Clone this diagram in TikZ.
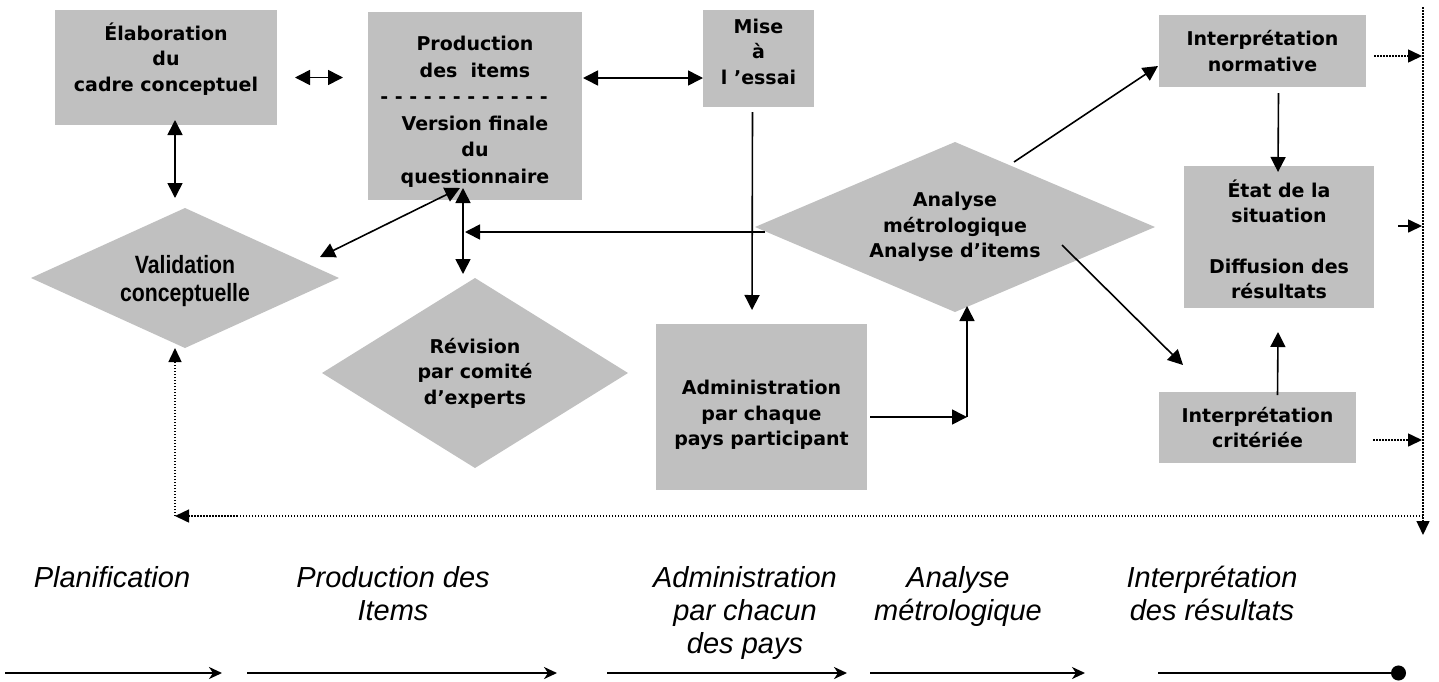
\documentclass[tikz,border=0pt]{standalone}
\usepackage{fontspec}
\setmainfont{Liberation Sans}
\newfontfamily\largefont{DejaVu Sans}
\newfontfamily\etroite[FakeStretch=0.85]{Liberation Sans}
\usetikzlibrary{calc, shapes.geometric, arrows.meta}
\definecolor{gris}{RGB}{192,192,192}
\newcommand{\fontetape}{\largefont\bfseries\fontsize{19}{25.5}\selectfont}
\newcommand{\fontvalid}{\etroite\bfseries\fontsize{25}{28}\selectfont}
\newcommand{\fontphase}{\itshape\fontsize{29}{33}\selectfont}
% text block moved up or down inside its box
\newcommand{\decal}[2]{\raisebox{#1}[\height][\depth]{\begin{tabular}{@{}c@{}}#2\end{tabular}}}

\begin{document}
\begin{tikzpicture}[x=1pt, y=-1pt,
  etape/.style={fill=gris, inner sep=0pt, outer sep=0pt, align=center, font=\fontetape},
  losange/.style={diamond, fill=gris, inner sep=0pt, outer sep=0pt, align=center, font=\fontetape},
  fleche/.style={line width=1.6pt, -{Triangle[length=15pt,width=15pt]}},
  dfleche/.style={line width=1.6pt, {Triangle[length=15pt,width=15pt]}-{Triangle[length=15pt,width=15pt]}},
  pfleche/.style={line width=1.5pt, dash pattern=on 1.5pt off 1.5pt, -{Triangle[length=14pt,width=13pt]}},
  phase/.style={font=\fontphase, align=center, anchor=base},
  axe/.style={line width=2.2pt, -{Stealth[length=13pt,width=12pt,inset=4pt]}}]
\useasboundingbox (0,0) rectangle (1439,681);

% Boxes
\node[etape, minimum width=222, minimum height=115] (elab) at (166,67.5) {\decal{7pt}{Élaboration\\du\\cadre conceptuel}};
\node[etape, minimum width=214, minimum height=188] (prod) at (475,106) {\renewcommand{\arraystretch}{1.04}\decal{-5.5pt}{Production\\des~~items\\- - - - - - - - - - - -\kern22pt\\Version finale\\du\\questionnaire}};
\node[etape, minimum width=111, minimum height=97] (mise) at (758.5,58.5) {\decal{5pt}{Mise\\à\\l ’essai}};
\node[etape, minimum width=211, minimum height=166] (admin) at (761.5,407) {\decal{-8pt}{Administration\\par chaque\\pays participant}};
\node[etape, minimum width=207, minimum height=72] (norm) at (1262.5,51) {Interprétation\\normative};
\node[etape, minimum width=190, minimum height=142] (etat) at (1279,237) {\decal{-6pt}{État de la\\situation\\[25pt]Diffusion des\\résultats}};
\node[etape, minimum width=197, minimum height=71] (crit) at (1257.5,427.5) {Interprétation\\critériée};

% Diamonds
\node[losange, font=\fontvalid, shape aspect=2.2, minimum width=308, minimum height=140] (valid) at (185,278) {\decal{-4pt}{Validation\\conceptuelle}};
\node[losange, shape aspect=1.6, minimum width=306, minimum height=190] (revis) at (475,373) {Révision\\par comité\\d’experts};
\node[losange, shape aspect=2.4, minimum width=400, minimum height=170] (anal) at (955,227) {Analyse\\métrologique\\Analyse d’items};

% Connectors
\draw[dfleche] ($(elab.east)+(18,10)$) -- ($(elab.east -| prod.west)+(-25,10)$);
\draw[dfleche] ($(elab.south)+(9,-5)$) -- ($(valid.north)+(-10,-10)$);
\draw[dfleche] ($(prod.east)+(1,-28)$) -- ($(mise.west)+(0,19.5)$);
\draw[dfleche] ($(prod.south)+(-15,-12)$) -- ($(valid.east)+(-19,-21)$);
\draw[dfleche] ($(prod.south)+(-12,-12)$) -- ($(revis.north)+(-12,-4)$);
\coordinate (jonction) at ($(prod.south)+(-10,32)$);
\draw[fleche] ($(anal.west)+(10,5)$) -- (jonction);
\draw[fleche] ($(mise.south)+(-6,5)$) -- ($(admin.north)+(-9.5,-14)$);
\coordinate (coude) at ($(admin.east)+(100,10)$);
\draw[fleche] ($(admin.east)+(3,10)$) -- (coude);
\draw[fleche] (coude) -- ($(coude |- anal.south)+(0,-6)$);
\draw[fleche] ($(anal.center)+(59,-65)$) -- ($(norm.west)+(-1,15)$);
\draw[fleche] ($(anal.center)+(107,18)$) -- ($(crit.north west)+(24,-27)$);
\draw[fleche] ($(norm.south)+(16,6)$) -- ($(etat.north)+(-1,6)$);
\draw[fleche] ($(crit.north)+(20,3)$) -- ($(etat.south)+(-1,24)$);

% Feedback rail
\coordinate (railhaut) at (1423,7);
\coordinate (railbas) at (1423,516);
\coordinate (sortie) at (1423,535);
\coordinate (retour) at (175,516);
\draw[pfleche] ($(norm.east)+(8,5)$) -- ($(norm.east -| railhaut)+(-1,5)$);
\draw[fleche, -{Triangle[length=14pt,width=13pt]}] ($(etat.east)+(24,-11)$) -- ($(etat.east -| railhaut)+(-1,-11)$);
\draw[pfleche] ($(crit.east)+(17,12.5)$) -- ($(crit.east -| railhaut)+(-1,12.5)$);
\draw[pfleche] (railhaut) -- (sortie);
\draw[pfleche] (railbas) -- (retour);
\draw[pfleche] (retour) -- ($(valid.south)+(-10,0)$);

% Phases
\node[phase] (planif) at (112,587) {Planification};
\node[phase] (prodit) at (393,620) {Production des\\Items};
\node[phase] (adminpays) at (745,653) {Administration\\par chacun\\des pays};
\node[phase] (analmetro) at (958,620) {Analyse\\métrologique};
\node[phase] (interp) at (1212,620) {Interprétation\\des résultats};

\foreach \debut/\fin in {5/222, 247/557, 607/847, 870/1085}
  \draw[axe] (\debut,673) -- (\fin,673);
\draw[line width=2.2pt, -{Circle[length=15pt]}] (1158,673) -- (1406,673);
\end{tikzpicture}
\end{document}
